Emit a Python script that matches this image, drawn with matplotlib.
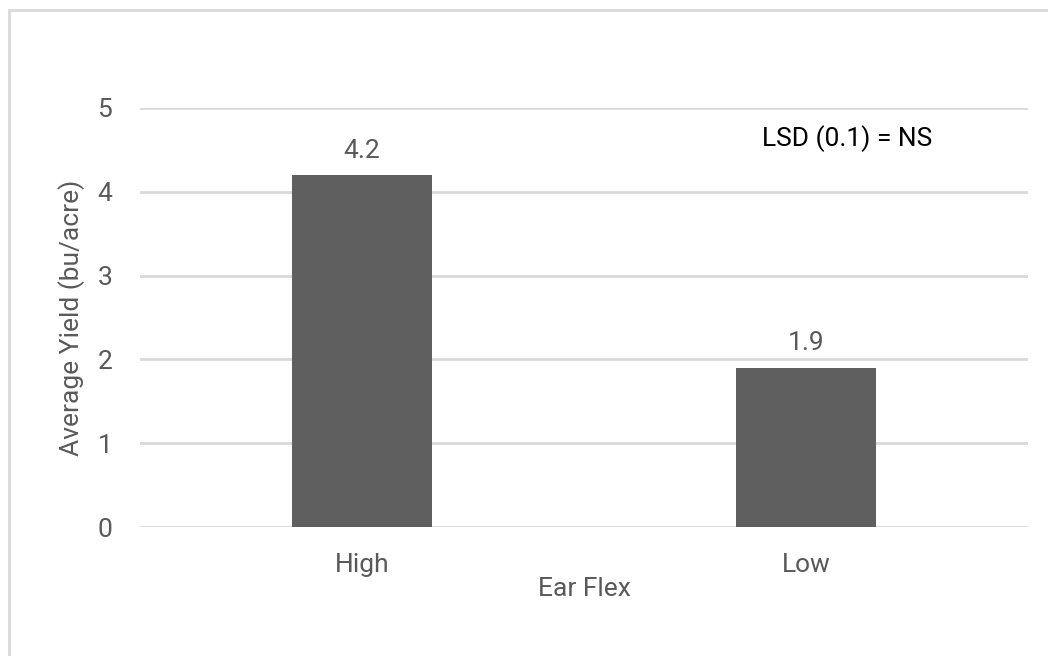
import matplotlib
matplotlib.use("Agg")
import matplotlib.pyplot as plt
from matplotlib.patches import Rectangle
from matplotlib import font_manager

# ear flex groups and their mean yields
categories = ["High", "Low"]
yields = [4.2, 1.9]
y_ticks = [0, 1, 2, 3, 4, 5]

names = {f.name for f in font_manager.fontManager.ttflist}
font = "Liberation Sans Narrow" if "Liberation Sans Narrow" in names else "Roboto"
plt.rcParams["font.family"] = [font, "DejaVu Sans"]

text_grey = "#595959"
grid_grey = "#d9d9d9"
fs = 19

fig = plt.figure(figsize=(10.48, 6.56), dpi=100)
ax = fig.add_axes([0.1336, 0.1966, 0.8474, 0.6388])

# outer chart border (runs off the right and bottom edges)
fig.patches.append(Rectangle((8.5 / 1048, -0.1), 1.2, 1 - 9.5 / 656 + 0.1,
                             transform=fig.transFigure, fill=False,
                             edgecolor=grid_grey, linewidth=2))

x = range(len(categories))
bars = ax.bar(x, yields, width=0.315, color="#5f5f5f", zorder=3)

for b, v in zip(bars, yields):
    ax.annotate(f"{v:.1f}", (b.get_x() + b.get_width() / 2, v),
                xytext=(0, 9), textcoords="offset points",
                ha="center", va="bottom", fontsize=fs, color=text_grey)

ax.set_xlim(-0.5, 1.5)
ax.set_ylim(0, 5)
ax.set_yticks(y_ticks)
ax.set_xticks(list(x))
ax.set_xticklabels(categories)
ax.tick_params(axis="both", length=0, labelsize=fs, colors=text_grey)
ax.tick_params(axis="y", pad=20)
ax.tick_params(axis="x", pad=19)
ax.yaxis.grid(True, color=grid_grey, linewidth=2, zorder=0)
for s in ax.spines.values():
    s.set_visible(False)

ax.set_ylabel("Average Yield (bu/acre)", fontsize=fs, color=text_grey, labelpad=9)
ax.set_xlabel("Ear Flex", fontsize=fs, color=text_grey, labelpad=0)

ax.text(0.70, 0.926, "LSD (0.1) = NS", transform=ax.transAxes,
        fontsize=fs, color="black", va="center", ha="left")

fig.savefig("out.png", dpi=100)
